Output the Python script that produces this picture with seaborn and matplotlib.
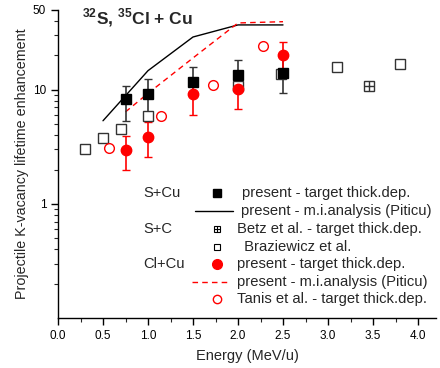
import matplotlib
matplotlib.use("Agg")
import matplotlib.pyplot as plt
import seaborn as sns
import numpy as np
from matplotlib.ticker import LogLocator, FixedLocator, NullFormatter, FuncFormatter, MultipleLocator

sns.set_style("ticks")
plt.rcParams['font.family'] = ['Liberation Sans', 'DejaVu Sans']
plt.rcParams['mathtext.fontset'] = 'custom'
plt.rcParams['mathtext.rm'] = 'Liberation Sans'
plt.rcParams['mathtext.bf'] = 'Liberation Sans:bold'

# S+Cu present - target thickness dependence
scu_e = [0.75, 1.0, 1.5, 2.0, 2.5]
scu_v = [8.3, 9.2, 11.8, 13.5, 14.0]
scu_lo = [5.35, 5.5, 9.0, 10.0, 9.4]
scu_hi = [10.8, 12.4, 15.9, 18.3, 20.0]
# S+Cu m.i. analysis
scu_mi_e = [0.5, 1.0, 1.5, 2.0, 2.5]
scu_mi_v = [5.35, 14.7, 29.0, 37.0, 37.0]
# Betz S+C
betz_e = [3.45]
betz_v = [10.8]
# Braziewicz
braz_e = [0.3, 0.5, 0.7, 1.0, 2.0, 2.48, 3.1, 3.8]
braz_v = [3.04, 3.8, 4.5, 5.9, 10.8, 13.8, 15.9, 16.9]
# Cl+Cu present
clcu_e = [0.75, 1.0, 1.5, 2.0, 2.5]
clcu_v = [2.98, 3.87, 9.2, 10.2, 20.2]
clcu_lo = [1.99, 2.58, 6.0, 6.8, 13.8]
clcu_hi = [3.95, 5.25, 12.2, 13.3, 26.3]
# Cl+Cu m.i. analysis
clcu_mi_e = [0.75, 1.0, 1.5, 2.0, 2.5]
clcu_mi_v = [6.4, 9.3, 19.0, 38.5, 39.5]
# Tanis
tanis_e = [0.57, 1.14, 1.72, 2.28]
tanis_v = [3.1, 5.9, 11.1, 24.3]

fig = plt.figure(figsize=(4.4, 3.68), dpi=100)
ax = fig.add_axes([58/440, 1-318/368, 378/440, 308/368])

red = '#ff0000'
# lines
sns.lineplot(x=scu_mi_e, y=scu_mi_v, ax=ax, color='black', lw=1.0, estimator=None, sort=False)
sns.lineplot(x=clcu_mi_e, y=clcu_mi_v, ax=ax, color=red, lw=1.0, estimator=None, sort=False, dashes=False)
ax.lines[-1].set_linestyle((0, (4, 3)))

# error bars
v = np.array(scu_v)
ax.errorbar(scu_e, scu_v, yerr=[v-np.array(scu_lo), np.array(scu_hi)-v], fmt='none',
            ecolor='#333333', elinewidth=1.2, capsize=3, capthick=1.0, zorder=3)
v = np.array(clcu_v)
ax.errorbar(clcu_e, clcu_v, yerr=[v-np.array(clcu_lo), np.array(clcu_hi)-v], fmt='none',
            ecolor=red, elinewidth=1.2, capsize=3, capthick=1.0, zorder=3)

# markers
ax.plot(braz_e, braz_v, ls='none', marker='s', ms=6.5, mfc='white', mec='#333333', mew=1.0, zorder=4)
ax.plot(betz_e, betz_v, ls='none', marker='s', ms=6.5, mfc='white', mec='#333333', mew=1.0, zorder=4)
for e, val in zip(betz_e, betz_v):
    ax.plot([e], [val], ls='none', marker='+', ms=6.5, mec='#333333', mew=1.0, zorder=5)
ax.plot(scu_e, scu_v, ls='none', marker='s', ms=7, mfc='black', mec='black', zorder=4)
ax.plot(tanis_e, tanis_v, ls='none', marker='o', ms=7, mfc='white', mec=red, mew=1.0, zorder=4)
ax.plot(clcu_e, clcu_v, ls='none', marker='o', ms=7.5, mfc=red, mec=red, zorder=5)

ax.set_yscale('log')
ax.set_xlim(0, 4.2)
ax.set_ylim(0.1, 50)
ax.yaxis.set_major_locator(FixedLocator([1, 10, 50]))
ax.yaxis.set_major_formatter(FuncFormatter(lambda y, p: f"{y:g}"))
ax.yaxis.set_minor_locator(LogLocator(base=10, subs=np.arange(2, 10)))
ax.yaxis.set_minor_formatter(NullFormatter())
ax.xaxis.set_major_locator(MultipleLocator(0.5))
ax.xaxis.set_minor_locator(MultipleLocator(0.25))
ax.xaxis.set_major_formatter(FuncFormatter(lambda x, p: f"{x:.1f}"))
ax.tick_params(which='major', direction='out', length=5, width=1, labelsize=8.5, colors='black')
ax.tick_params(which='minor', direction='out', length=3, width=0.8)
for s in ['top', 'right']:
    ax.spines[s].set_visible(False)
for s in ['left', 'bottom']:
    ax.spines[s].set_linewidth(1.0)
    ax.spines[s].set_color('black')

ax.set_xlabel('Energy (MeV/u)', fontsize=10.5, labelpad=5)
ax.set_ylabel('Projectile K-vacancy lifetime enhancement', fontsize=10.3, labelpad=3)

fig.text(82/440, 1-18/368, r'$^{\mathbf{32}}$S, $^{\mathbf{35}}$Cl + Cu', fontsize=12.5,
         fontweight='bold', va='center', ha='left')

# legend (manual)
def fx(px):
    return px/440
def fy(py):
    return 1-py/368
rows = [193, 211, 229, 247, 264, 282, 299]
fs = 10.6
fig.text(fx(143), fy(rows[0]), 'S+Cu', fontsize=fs, va='center')
fig.text(fx(143), fy(rows[2]), 'S+C', fontsize=fs, va='center')
fig.text(fx(143), fy(rows[4]), 'Cl+Cu', fontsize=fs, va='center')
texts = ['present - target thick.dep.', 'present - m.i.analysis (Piticu)',
         'Betz et al. - target thick.dep.', ' Braziewicz et al.', 'present - target thick.dep.',
         'present - m.i.analysis (Piticu)', 'Tanis et al. - target thick.dep.']
tx = [242, 241, 237, 240, 237, 237, 237]
for t, x0, r in zip(texts, tx, rows):
    fig.text(fx(x0), fy(r), t, fontsize=fs, va='center')
mx = 217
fig.add_artist(plt.Line2D([fx(mx)], [fy(rows[0])], marker='s', ms=6, mfc='black', mec='black', ls='none'))
fig.add_artist(plt.Line2D([fx(195), fx(233)], [fy(rows[1])]*2, color='black', lw=1.0))
fig.add_artist(plt.Line2D([fx(mx)], [fy(rows[2])], marker='s', ms=5, mfc='white', mec='black', mew=0.8, ls='none'))
fig.add_artist(plt.Line2D([fx(mx)], [fy(rows[2])], marker='+', ms=5, mec='black', mew=0.8, ls='none'))
fig.add_artist(plt.Line2D([fx(mx)], [fy(rows[3])], marker='s', ms=5, mfc='white', mec='black', mew=0.8, ls='none'))
fig.add_artist(plt.Line2D([fx(mx)], [fy(rows[4])], marker='o', ms=7, mfc=red, mec=red, ls='none'))
fig.add_artist(plt.Line2D([fx(192), fx(230)], [fy(rows[5])]*2, color=red, lw=1.0, ls=(0, (4, 3))))
fig.add_artist(plt.Line2D([fx(mx)], [fy(rows[6])], marker='o', ms=6, mfc='white', mec=red, mew=1.0, ls='none'))

fig.savefig('out.png', dpi=100)
